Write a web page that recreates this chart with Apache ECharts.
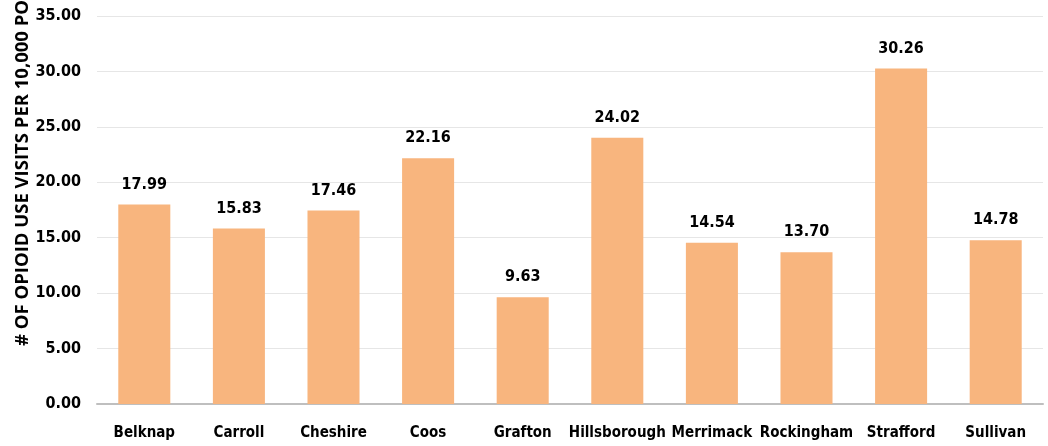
<!DOCTYPE html>
<html>
<head>
<meta charset="utf-8">
<script src="https://cdn.jsdelivr.net/npm/echarts@6/dist/echarts.min.js"></script>
<style>
  html, body { margin: 0; padding: 0; background: #fff; }
  #chart { width: 1048px; height: 446px; }
</style>
</head>
<body>
<div id="chart"></div>
<script>
  // counties and visit rates per 10,000
  var counties = ['Belknap', 'Carroll', 'Cheshire', 'Coos', 'Grafton', 'Hillsborough', 'Merrimack', 'Rockingham', 'Strafford', 'Sullivan']
  var visits = [17.99, 15.83, 17.46, 22.16, 9.63, 24.02, 14.54, 13.70, 30.26, 14.78]
  var yTitle = '# OF OPIOID USE VISITS PER 10,000 POPULATION'

  var narrow = '"DejaVu Sans Condensed", "DejaVu Sans", sans-serif'

  var chart = echarts.init(document.getElementById('chart'))
  var option = {
    animation: false,
    grid: { left: 97, right: 5, top: 16, bottom: 42 },
    graphic: [{
      type: 'text',
      x: 23,
      y: 346,
      rotation: Math.PI / 2,
      style: {
        text: yTitle,
        fill: '#000',
        fontFamily: 'Open Sans',
        fontWeight: 'bold',
        fontSize: 18.5,
        align: 'left',
        verticalAlign: 'middle'
      }
    }],
    xAxis: {
      type: 'category',
      data: counties,
      axisTick: { show: false },
      axisLine: { lineStyle: { color: '#bfbfbf', width: 2 } },
      axisLabel: {
        color: '#000',
        fontFamily: narrow,
        fontWeight: 'bold',
        fontSize: 15,
        margin: 22,
        interval: 0
      }
    },
    yAxis: {
      type: 'value',
      min: 0,
      max: 35,
      interval: 5,
      axisLine: { show: false },
      axisTick: { show: false },
      splitLine: { lineStyle: { color: '#e6e6e6', width: 1 } },
      axisLabel: {
        color: '#000',
        fontFamily: narrow,
        fontWeight: 'bold',
        fontSize: 16,
        margin: 16,
        formatter: function (v) { return v.toFixed(2) }
      }
    },
    series: [{
      type: 'bar',
      data: visits,
      barWidth: '55%',
      itemStyle: { color: '#F8B57E' },
      label: {
        show: true,
        position: 'top',
        distance: 12,
        color: '#000',
        fontFamily: narrow,
        fontWeight: 'bold',
        fontSize: 16,
        formatter: function (p) { return p.value.toFixed(2) }
      }
    }]
  }
  chart.setOption(option)
</script>
</body>
</html>
